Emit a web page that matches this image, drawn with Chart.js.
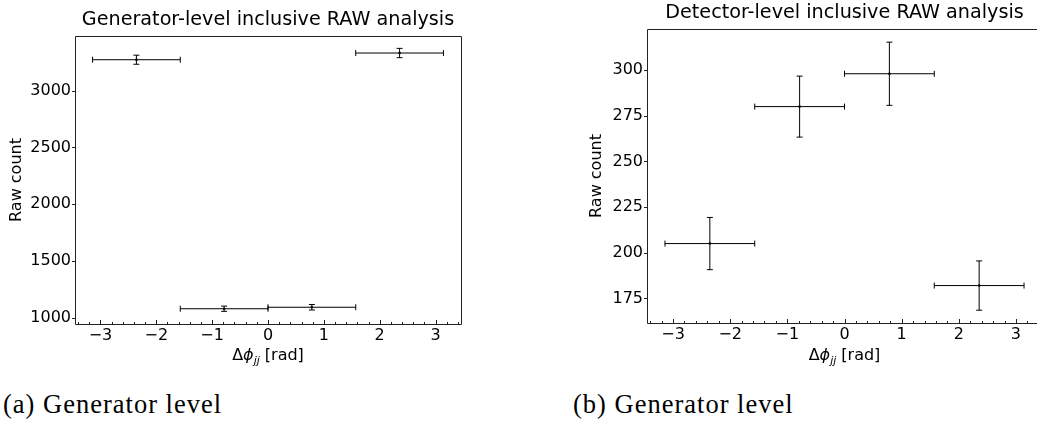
<!DOCTYPE html>
<html>
<head>
<meta charset="utf-8">
<script src="https://cdn.jsdelivr.net/npm/chart.js@4.4.1/dist/chart.umd.min.js"></script>
<style>
  html, body { margin: 0; padding: 0; background: #fff; }
  body { width: 1037px; height: 425px; position: relative; overflow: hidden; }
  .panel { position: absolute; top: 0; height: 370px; }
  #genPanel { left: 0; width: 480px; }
  #detPanel { left: 520px; width: 530px; }
  .caption {
    position: absolute; top: 391px; line-height: 1;
    font-family: "Liberation Serif", "DejaVu Serif", serif; font-size: 26.5px; color: #000;
    letter-spacing: 1px; white-space: nowrap;
  }
</style>
</head>
<body>
<div class="panel" id="genPanel"><canvas id="genChart"></canvas></div>
<div class="panel" id="detPanel"><canvas id="detChart"></canvas></div>
<div class="caption" style="left:3px">(a) Generator level</div>
<div class="caption" style="left:573px">(b) Generator level</div>

<script>
// Δφ_jj bins: edges at -π, -π/2, 0, π/2, π
const binEdges = [-3.14159, -1.5708, 0, 1.5708, 3.14159];

// generator level counts and errors
const genCounts = [3273, 1079, 1092, 3332];
const genErrors = [40, 23, 24, 41];

// detector level counts and errors
const detCounts = [205, 280, 298, 182];
const detErrors = [14.3, 16.7, 17.3, 13.5];

const xTicks = [-3, -2, -1, 0, 1, 2, 3];
const genYTicks = [1000, 1500, 2000, 2500, 3000];
const detYTicks = [175, 200, 225, 250, 275, 300];

const FONT = "'DejaVu Sans', sans-serif";
const TICK_SIZE = 16;
const LABEL_SIZE = 16;
const TITLE_SIZE = 19.2;

function binPoints(counts, errors) {
  return counts.map((c, i) => ({
    x: (binEdges[i] + binEdges[i + 1]) / 2,
    y: c,
    xlo: binEdges[i],
    xhi: binEdges[i + 1],
    err: errors[i]
  }));
}

function minus(v) {
  return String(v).replace('-', '\u2212');
}

// horizontal bin-width bars and vertical error bars with caps
const errorBars = {
  id: 'errorBars',
  afterDatasetsDraw(chart) {
    const { ctx, scales: { x, y } } = chart;
    const cap = 3;
    ctx.save();
    ctx.strokeStyle = '#000';
    ctx.lineWidth = 1;
    chart.data.datasets[0].data.forEach(p => {
      const x0 = x.getPixelForValue(p.xlo), x1 = x.getPixelForValue(p.xhi);
      const xc = x.getPixelForValue(p.x), yc = y.getPixelForValue(p.y);
      const y0 = y.getPixelForValue(p.y - p.err), y1 = y.getPixelForValue(p.y + p.err);
      ctx.beginPath();
      ctx.moveTo(x0, yc); ctx.lineTo(x1, yc);
      ctx.moveTo(x0, yc - cap); ctx.lineTo(x0, yc + cap);
      ctx.moveTo(x1, yc - cap); ctx.lineTo(x1, yc + cap);
      ctx.moveTo(xc, y0); ctx.lineTo(xc, y1);
      ctx.moveTo(xc - cap, y0); ctx.lineTo(xc + cap, y0);
      ctx.moveTo(xc - cap, y1); ctx.lineTo(xc + cap, y1);
      ctx.stroke();
    });
    ctx.restore();
  }
};

// matplotlib-like frame, ticks, title and axis labels
const mplDecor = {
  id: 'mplDecor',
  afterDraw(chart, args, opts) {
    const { ctx, chartArea: a, scales: { x, y } } = chart;
    ctx.save();
    ctx.strokeStyle = '#222';
    ctx.lineWidth = 1;
    ctx.beginPath();
    ctx.rect(Math.round(a.left) + 0.5, Math.round(a.top) + 0.5,
             Math.round(a.right - a.left), Math.round(a.bottom - a.top));
    ctx.stroke();

    // x ticks pointing inward, minor every 0.2
    ctx.beginPath();
    const yb = Math.round(a.bottom) + 0.5;
    for (let k = -17; k <= 17; k++) {
      const v = k / 5;
      const px = Math.round(x.getPixelForValue(v)) + 0.5;
      if (px < a.left || px > a.right) continue;
      const len = (k % 5 === 0) ? 4.5 : 2.5;
      ctx.moveTo(px, yb); ctx.lineTo(px, yb - len);
    }
    // y ticks pointing outward
    const xl = Math.round(a.left) + 0.5;
    y.ticks.forEach(t => {
      const py = Math.round(y.getPixelForValue(t.value)) + 0.5;
      ctx.moveTo(xl, py); ctx.lineTo(xl - 3.5, py);
    });
    ctx.stroke();

    ctx.fillStyle = '#000';
    // title
    ctx.font = `${TITLE_SIZE}px ${FONT}`;
    ctx.textAlign = 'center';
    ctx.textBaseline = 'alphabetic';
    ctx.fillText(opts.title, x.getPixelForValue(0), opts.titleY);

    // y label
    ctx.font = `${LABEL_SIZE}px ${FONT}`;
    ctx.save();
    ctx.translate(opts.ylabelX, (a.top + a.bottom) / 2);
    ctx.rotate(-Math.PI / 2);
    ctx.textBaseline = 'middle';
    ctx.fillText('Raw count', 0, 0);
    ctx.restore();

    // x label: Δφ_jj [rad]
    const xc = x.getPixelForValue(0);
    const base = opts.xlabelY;
    const parts = [
      { t: '\u0394', f: `${LABEL_SIZE}px ${FONT}`, dy: 0 },
      { t: '\u03d5', f: `italic ${LABEL_SIZE}px ${FONT}`, dy: 0 },
      { t: 'jj', f: `italic 11px ${FONT}`, dy: 3.5 },
      { t: ' [rad]', f: `${LABEL_SIZE}px ${FONT}`, dy: 0 }
    ];
    let total = 0;
    parts.forEach(p => { ctx.font = p.f; p.w = ctx.measureText(p.t).width; total += p.w; });
    let cx = xc - total / 2;
    ctx.textAlign = 'left';
    parts.forEach(p => {
      ctx.font = p.f;
      ctx.fillText(p.t, cx, base + p.dy);
      cx += p.w;
    });
    ctx.restore();
  }
};

function makeChart(id, points, yMin, yMax, yTicks, layout, decor) {
  return new Chart(document.getElementById(id), {
    type: 'scatter',
    data: {
      datasets: [{
        data: points,
        pointRadius: 1.3,
        pointBackgroundColor: '#000',
        pointBorderWidth: 0
      }]
    },
    options: {
      responsive: true,
      maintainAspectRatio: false,
      animation: false,
      layout: { padding: layout.padding },
      plugins: {
        legend: { display: false },
        tooltip: { enabled: false },
        mplDecor: decor
      },
      scales: {
        x: {
          type: 'linear',
          min: -3.456, max: 3.456,
          grid: { display: false, drawTicks: false },
          border: { display: false },
          afterBuildTicks: s => { s.ticks = xTicks.map(v => ({ value: v })); },
          afterFit: s => { s.height = layout.xHeight; },
          ticks: {
            padding: 2,
            color: '#000',
            font: { family: FONT, size: TICK_SIZE },
            maxRotation: 0,
            callback: v => minus(v)
          }
        },
        y: {
          min: yMin, max: yMax,
          grid: { display: false, drawTicks: false },
          border: { display: false },
          afterBuildTicks: s => { s.ticks = yTicks.map(v => ({ value: v })); },
          afterFit: s => { s.width = layout.yWidth; },
          ticks: {
            padding: 4,
            color: '#000',
            font: { family: FONT, size: TICK_SIZE },
            callback: v => String(v)
          }
        }
      }
    },
    plugins: [errorBars, mplDecor]
  });
}

makeChart('genChart', binPoints(genCounts, genErrors), 944.5, 3482, genYTicks,
  { padding: { top: 36, right: 19, left: 0, bottom: 0 }, yWidth: 75, xHeight: 46 },
  { title: 'Generator-level inclusive RAW analysis', titleY: 25, ylabelX: 17, xlabelY: 360 });

makeChart('detChart', binPoints(detCounts, detErrors), 161.5, 322.5, detYTicks,
  { padding: { top: 29, right: 8, left: 0, bottom: 0 }, yWidth: 127, xHeight: 47 },
  { title: 'Detector-level inclusive RAW analysis', titleY: 18, ylabelX: 77, xlabelY: 360 });
</script>
</body>
</html>
